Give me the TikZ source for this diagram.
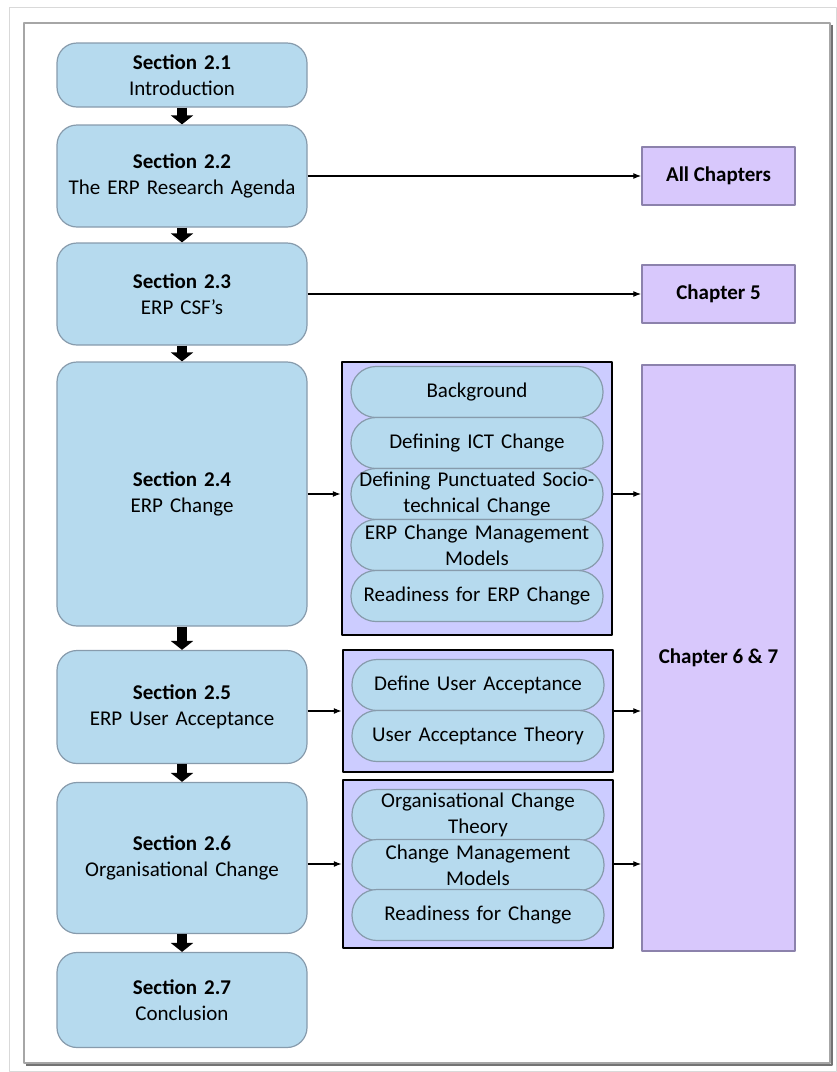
\documentclass[tikz,border=0pt]{standalone}
\usepackage{fontspec}
\setmainfont{Carlito}
\usetikzlibrary{arrows.meta,positioning}
\definecolor{secblue}{RGB}{182,218,238}
\definecolor{secline}{RGB}{135,155,172}
\definecolor{chapfill}{RGB}{216,200,252}
\definecolor{chapline}{RGB}{140,130,172}
\definecolor{grpfill}{RGB}{204,204,255}
\tikzset{
  sectionbox/.style={draw=secline, fill=secblue, line width=1.2pt, rounded corners=20pt, minimum width=250pt, text width=240pt, align=center},
  topicpill/.style={draw=secline, fill=secblue, line width=1.2pt, rounded corners=25pt, minimum width=252pt, minimum height=51pt, text width=240pt, align=center, inner sep=0pt},
  chapbox/.style={draw=chapline, fill=chapfill, line width=1.5pt, minimum width=153pt, font=\fontsize{21}{26}\selectfont\bfseries},
  groupbox/.style={draw=black, fill=grpfill, line width=2.5pt, minimum width=270pt},
  flowarrow/.style={line width=10pt, -{Triangle[width=22pt,length=9pt]}},
  linkarrow/.style={line width=1.2pt, -{Latex[length=8pt,width=6pt]}}
}
\begin{document}
\begin{tikzpicture}[x=1pt, y=-1pt, font=\fontsize{21}{26}\selectfont, line join=round]
  \useasboundingbox (0,0) rectangle (837,1072);
  % frames
  \draw[black!15, line width=1pt] (9,7) rectangle (836,1071);
  \draw[black!35, line width=1.5pt] (24,23) rectangle (830,1063);
  \draw[black!55, line width=2pt] (832,25) -- (832,1065) -- (26,1065);

  % section column
  \node[sectionbox, minimum height=64pt] (s21) at (182,75) {\textbf{Section 2.1}\\Introduction};
  \node[sectionbox, minimum height=102pt] (s22) at (182,176) {\textbf{Section 2.2}\\The ERP Research Agenda};
  \node[sectionbox, minimum height=102pt] (s23) at (182,294) {\textbf{Section 2.3}\\ERP CSF’s};
  \node[sectionbox, minimum height=264pt] (s24) at (182,494) {\textbf{Section 2.4}\\ERP Change};
  \node[sectionbox, minimum height=113pt] (s25) at (182,707) {\textbf{Section 2.5}\\ERP User Acceptance};
  \node[sectionbox, minimum height=151pt] (s26) at (182,858) {\textbf{Section 2.6}\\Organisational Change};
  \node[sectionbox, minimum height=95pt] (s27) at (182,1000) {\textbf{Section 2.7}\\Conclusion};

  \draw[flowarrow] (s21.south) -- (s22.north);
  \draw[flowarrow] (s22.south) -- (s23.north);
  \draw[flowarrow] (s23.south) -- (s24.north);
  \draw[flowarrow] (s24.south) -- (s25.north);
  \draw[flowarrow] (s25.south) -- (s26.north);
  \draw[flowarrow] (s26.south) -- (s27.north);

  % chapters
  \node[chapbox, minimum height=58pt] (allch) at (718.5,176) {All Chapters};
  \node[chapbox, minimum height=58pt] (ch5) at (718.5,294) {Chapter 5};
  \node[chapbox, minimum height=586pt] (ch67) at (718.5,658) {Chapter 6 \& 7};

  % topic groups
  \node[groupbox, minimum height=273pt] (grp1) at (477,498.5) {};
  \node[topicpill] (bg) at (477,392) {Background};
  \node[topicpill] (ict) at (477,443) {Defining ICT Change};
  \node[topicpill] (pst) at (477,494) {Defining Punctuated Socio-\\technical Change};
  \node[topicpill] (ecm) at (477,545) {ERP Change Management\\Models};
  \node[topicpill] (rerp) at (477,596) {Readiness for ERP Change};

  \node[groupbox, minimum height=122pt] (grp2) at (478,711) {};
  \node[topicpill] (dua) at (478,685) {Define User Acceptance};
  \node[topicpill] (uat) at (478,736) {User Acceptance Theory};

  \node[groupbox, minimum height=168pt] (grp3) at (478,864) {};
  \node[topicpill] (oct) at (478,815) {Organisational Change\\Theory};
  \node[topicpill] (cmm) at (478,865) {Change Management\\Models};
  \node[topicpill] (rfc) at (478,915) {Readiness for Change};

  % links
  \draw[linkarrow] (s22.east) -- (allch.west);
  \draw[linkarrow] (s23.east) -- (ch5.west);
  \draw[linkarrow] (s24.east) -- (s24.east -| grp1.west);
  \draw[linkarrow] (s24.east -| grp1.east) -- (s24.east -| ch67.west);
  \draw[linkarrow] (grp2.west -| s25.east) -- (grp2.west);
  \draw[linkarrow] (grp2.east) -- (grp2.east -| ch67.west);
  \draw[linkarrow] (grp3.west -| s26.east) -- (grp3.west);
  \draw[linkarrow] (grp3.east) -- (grp3.east -| ch67.west);
\end{tikzpicture}
\end{document}
